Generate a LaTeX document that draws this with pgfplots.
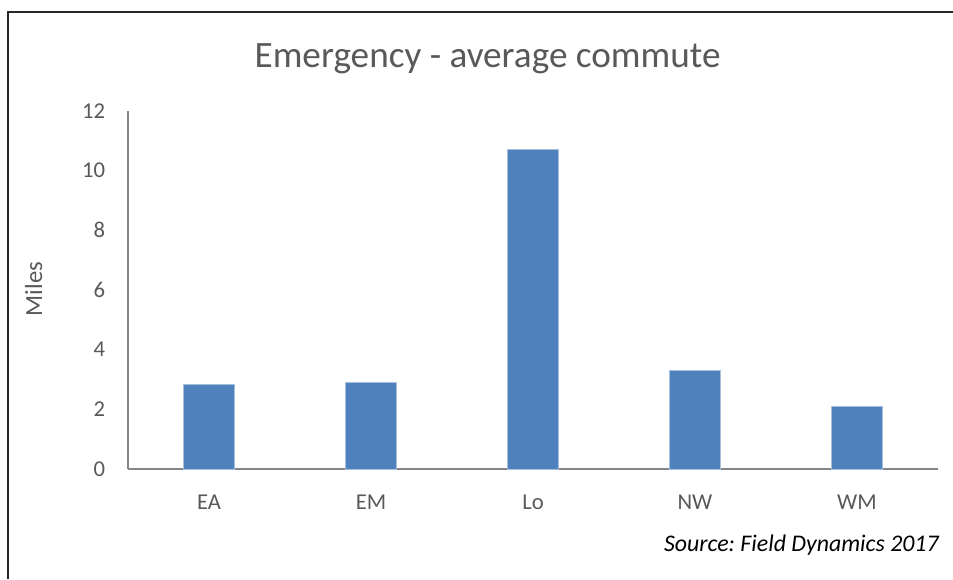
\documentclass[border=0pt]{standalone}
\usepackage{pgfplots}
\pgfplotsset{compat=1.18}
\usepackage{fontspec}
\setmainfont{Carlito}
\frenchspacing
\definecolor{barblue}{HTML}{4F81BD}
\definecolor{baredge}{HTML}{A7BFDE}
\definecolor{txt}{HTML}{595959}
\definecolor{axgray}{HTML}{868686}
\begin{document}
\begin{tikzpicture}[x=0.75pt,y=0.75pt]
\path[use as bounding box] (0,0) rectangle (953,579);
\draw[black!85, line width=1.1pt] (8,0) -- (8,567) -- (953,567);
\begin{axis}[
  at={(96pt,82.5pt)}, anchor=south west,
  scale only axis, width=607.5pt, height=268.5pt,
  xmin=-0.5, xmax=4.5, ymin=0, ymax=12,
  ytick={0,2,...,12}, xtick={0,...,4},
  xticklabels={EA,EM,Lo,NW,WM},
  axis x line=bottom, axis y line=left,
  axis line style={draw=axgray, line width=1pt, -},
  major tick length=0pt, tick style={draw=none},
  ticklabel style={font=\fontsize{17}{19}\selectfont, text=txt},
  yticklabel style={anchor=east, inner sep=0pt, xshift=-17pt},
  xticklabel style={anchor=north, inner sep=0pt, yshift=-19.5pt},
  /pgf/number format/assume math mode=true,
  ybar, bar width=38.25pt,
  clip=false,
]
\addplot[fill=barblue, draw=baredge, line width=0.6pt] coordinates {
  (0,2.82) (1,2.91) (2,10.71) (3,3.30) (4,2.10)
};
\end{axis}
\node[anchor=base, text=txt, font=\fontsize{27.9}{31}\selectfont] at (487.5,511.5) {Emergency - average commute};
\node[anchor=base, rotate=90, text=txt, font=\fontsize{18.5}{21}\selectfont] at (42,290) {Miles};
\node[anchor=base east, inner sep=0pt, font=\itshape\fontsize{17.9}{21}\selectfont] at (939,28) {Source: Field Dynamics 2017};
\end{tikzpicture}
\end{document}
